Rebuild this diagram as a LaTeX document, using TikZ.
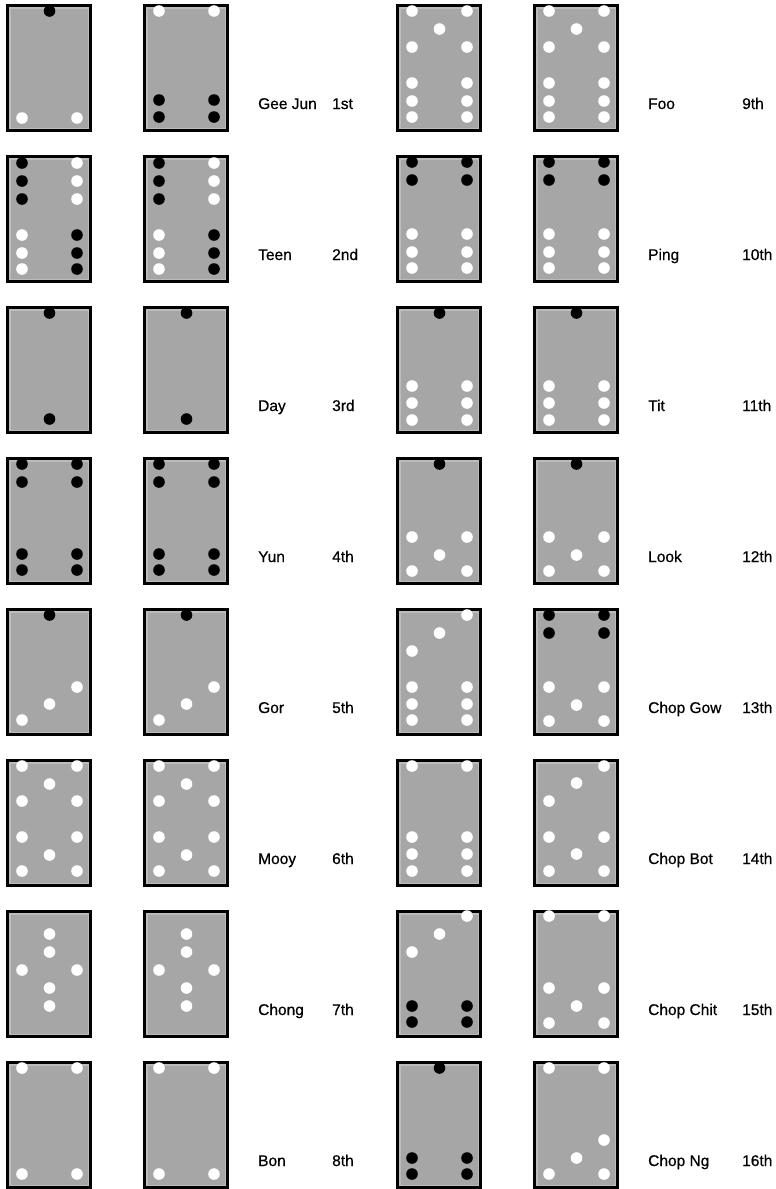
\documentclass[tikz,border=0pt]{standalone}
\usepackage{fontspec}
\setmainfont{Liberation Sans}[FakeBold=0.6]
\definecolor{tilegray}{RGB}{166,166,166}
\definecolor{tilelight}{RGB}{188,188,188}
\tikzset{
  tileouter/.style={fill=tilelight},
  tileinner/.style={fill=tilegray},
  tileborder/.style={draw=black,line width=3pt},
  lbl/.style={anchor=base west,inner sep=0pt,font=\fontsize{15.5}{18}\selectfont},
}
\newcommand{\domino}[3]{%
  \begin{scope}[shift={(#1,#2)}]
    \fill[tileouter] (0,0) rectangle (86,128);
    \fill[tileinner] (4.5,4.5) rectangle (81.5,123.5);
    \draw[tileborder] (1.5,1.5) rectangle (84.5,126.5);
    \foreach \c/\r/\k in {#3} \fill[fill=\k] (\c,\r) circle (5.8pt);
  \end{scope}}
\begin{document}
\begin{tikzpicture}[x=1pt,y=-1pt]
\useasboundingbox (0,0) rectangle (776,1189);
% ---- row 1 (top 4)
\domino{6}{4}{43.5/7/black,16/114/white,71/114/white}
\domino{143}{4}{16/7/white,71/7/white,16/96/black,71/96/black,16/113/black,71/113/black}
\domino{396}{4}{16/7/white,71/7/white,43.5/25/white,16/43/white,71/43/white,16/79/white,71/79/white,16/97/white,71/97/white,16/113/white,71/113/white}
\domino{533}{4}{16/7/white,71/7/white,43.5/25/white,16/43/white,71/43/white,16/79/white,71/79/white,16/97/white,71/97/white,16/113/white,71/113/white}
% ---- row 2 (top 155)
\domino{6}{155}{16/8/black,16/26/black,16/44/black,71/8/white,71/26/white,71/44/white,16/80/white,16/98/white,16/114/white,71/80/black,71/98/black,71/114/black}
\domino{143}{155}{16/8/black,16/26/black,16/44/black,71/8/white,71/26/white,71/44/white,16/80/white,16/98/white,16/114/white,71/80/black,71/98/black,71/114/black}
\domino{396}{155}{16/7/black,71/7/black,16/25/black,71/25/black,16/79/white,71/79/white,16/97/white,71/97/white,16/113/white,71/113/white}
\domino{533}{155}{16/7/black,71/7/black,16/25/black,71/25/black,16/79/white,71/79/white,16/97/white,71/97/white,16/113/white,71/113/white}
% ---- row 3 (top 306)
\domino{6}{306}{43.5/7/black,43.5/113/black}
\domino{143}{306}{43.5/7/black,43.5/113/black}
\domino{396}{306}{43.5/7/black,16/80/white,71/80/white,16/97/white,71/97/white,16/114/white,71/114/white}
\domino{533}{306}{43.5/7/black,16/80/white,71/80/white,16/97/white,71/97/white,16/114/white,71/114/white}
% ---- row 4 (top 457)
\domino{6}{457}{16/7/black,71/7/black,16/25/black,71/25/black,16/97/black,71/97/black,16/113/black,71/113/black}
\domino{143}{457}{16/7/black,71/7/black,16/25/black,71/25/black,16/97/black,71/97/black,16/113/black,71/113/black}
\domino{396}{457}{43.5/7/black,16/80/white,71/80/white,43.5/98/white,16/114/white,71/114/white}
\domino{533}{457}{43.5/7/black,16/80/white,71/80/white,43.5/98/white,16/114/white,71/114/white}
% ---- row 5 (top 608)
\domino{6}{608}{43.5/7/black,71/79/white,43.5/96/white,16/112/white}
\domino{143}{608}{43.5/7/black,71/79/white,43.5/96/white,16/112/white}
\domino{396}{608}{71/7/white,43.5/25/white,16/43/white,16/79/white,71/79/white,16/96/white,71/96/white,16/112/white,71/112/white}
\domino{533}{608}{16/7/black,71/7/black,16/25/black,71/25/black,16/79/white,71/79/white,43.5/97/white,16/113/white,71/113/white}
% ---- row 6 (top 759)
\domino{6}{759}{16/7/white,71/7/white,43.5/25/white,16/42/white,71/42/white,16/78/white,71/78/white,43.5/96/white,16/112/white,71/112/white}
\domino{143}{759}{16/7/white,71/7/white,43.5/25/white,16/42/white,71/42/white,16/78/white,71/78/white,43.5/96/white,16/112/white,71/112/white}
\domino{396}{759}{16/7/white,71/7/white,16/78/white,71/78/white,16/95/white,71/95/white,16/112/white,71/112/white}
\domino{533}{759}{71/7/white,43.5/24/white,16/42/white,16/78/white,71/78/white,43.5/95/white,16/112/white,71/112/white}
% ---- row 7 (top 910)
\domino{6}{910}{43.5/24/white,43.5/42/white,16/60/white,71/60/white,43.5/78/white,43.5/96/white}
\domino{143}{910}{43.5/24/white,43.5/42/white,16/60/white,71/60/white,43.5/78/white,43.5/96/white}
\domino{396}{910}{71/6/white,43.5/24/white,16/42/white,16/96/black,71/96/black,16/112/black,71/112/black}
\domino{533}{910}{16/6/white,71/6/white,16/78/white,71/78/white,43.5/96/white,16/113/white,71/113/white}
% ---- row 8 (top 1061)
\domino{6}{1061}{16/7/white,71/7/white,16/113/white,71/113/white}
\domino{143}{1061}{16/7/white,71/7/white,16/113/white,71/113/white}
\domino{396}{1061}{43.5/7/black,16/97/black,71/97/black,16/113/black,71/113/black}
\domino{533}{1061}{16/7/white,71/7/white,71/79/white,43.5/97/white,16/113/white,71/113/white}
% ---- labels
\node[lbl] (n1) at (258,109) {Gee Jun};   \node[lbl] (o1) at (332,109) {1st};
\node[lbl] (n2) at (258,260) {Teen};      \node[lbl] (o2) at (332,260) {2nd};
\node[lbl] (n3) at (258,411) {Day};       \node[lbl] (o3) at (332,411) {3rd};
\node[lbl] (n4) at (258,562) {Yun};       \node[lbl] (o4) at (332,562) {4th};
\node[lbl] (n5) at (258,713) {Gor};       \node[lbl] (o5) at (332,713) {5th};
\node[lbl] (n6) at (258,864) {Mooy};      \node[lbl] (o6) at (332,864) {6th};
\node[lbl] (n7) at (258,1015) {Chong};    \node[lbl] (o7) at (332,1015) {7th};
\node[lbl] (n8) at (258,1166) {Bon};      \node[lbl] (o8) at (332,1166) {8th};
\node[lbl] (n9) at (648,109) {Foo};       \node[lbl] (o9) at (742,109) {9th};
\node[lbl] (n10) at (648,260) {Ping};     \node[lbl] (o10) at (742,260) {10th};
\node[lbl] (n11) at (648,411) {Tit};      \node[lbl] (o11) at (742,411) {11th};
\node[lbl] (n12) at (648,562) {Look};     \node[lbl] (o12) at (742,562) {12th};
\node[lbl] (n13) at (648,713) {Chop Gow}; \node[lbl] (o13) at (742,713) {13th};
\node[lbl] (n14) at (648,864) {Chop Bot}; \node[lbl] (o14) at (742,864) {14th};
\node[lbl] (n15) at (648,1015) {Chop Chit};\node[lbl] (o15) at (742,1015) {15th};
\node[lbl] (n16) at (648,1166) {Chop Ng}; \node[lbl] (o16) at (742,1166) {16th};
\end{tikzpicture}
\end{document}
